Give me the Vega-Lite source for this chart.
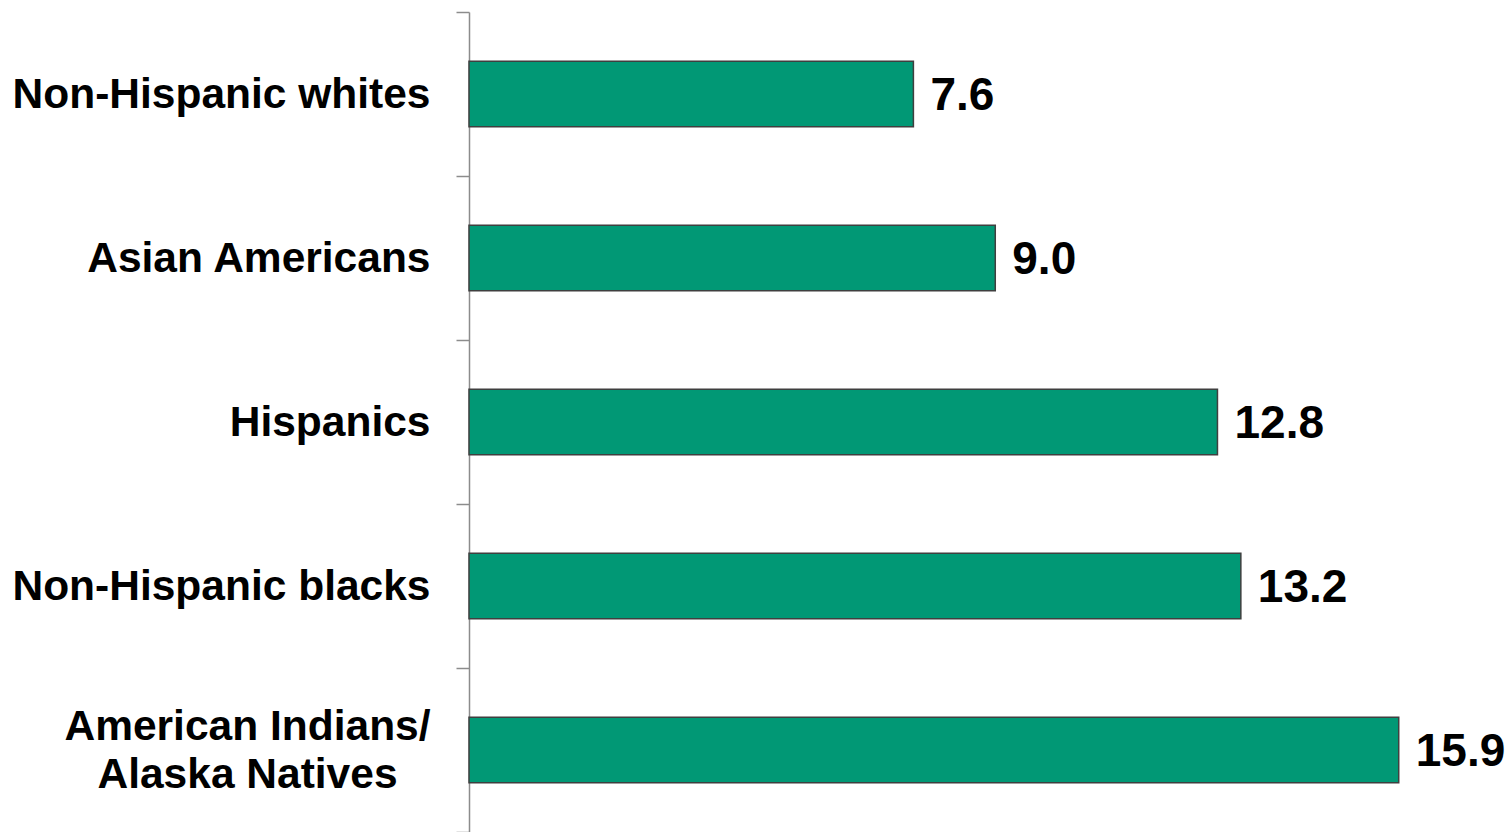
{
  "$schema": "https://vega.github.io/schema/vega-lite/v6.json",
  "autosize": "none",
  "padding": {"left": 469, "top": 12, "right": 0, "bottom": 0},
  "width": 1042,
  "height": 820,
  "background": "white",
  "config": {"view": {"stroke": null}, "font": "Liberation Sans"},
  "data": {"values": [
    {"group": "Non-Hispanic whites", "value": 7.6, "label": "7.6"},
    {"group": "Asian Americans", "value": 9.0, "label": "9.0"},
    {"group": "Hispanics", "value": 12.8, "label": "12.8"},
    {"group": "Non-Hispanic blacks", "value": 13.2, "label": "13.2"},
    {"group": "American Indians/ Alaska Natives", "value": 15.9, "label": "15.9"}
  ]},
  "encoding": {
    "y": {
      "field": "group", "type": "nominal", "sort": null,
      "scale": {"paddingInner": 0, "paddingOuter": 0},
      "axis": {
        "title": null,
        "tickBand": "extent",
        "tickSize": 13,
        "tickColor": "#8c8c8c",
        "tickWidth": 1.5,
        "domainColor": "#8c8c8c",
        "domainWidth": 1.5,
        "labelFont": "Liberation Sans",
        "labelFontWeight": "bold",
        "labelFontSize": 42.5,
        "labelColor": "black",
        "labelPadding": {"condition": {"test": "datum.value == 'American Indians/ Alaska Natives'", "value": 209}, "value": 26},
        "labelAlign": {"condition": {"test": "datum.value == 'American Indians/ Alaska Natives'", "value": "center"}, "value": "right"},
        "labelOffset": {"condition": {"test": "datum.value == 'American Indians/ Alaska Natives'", "value": -24}, "value": 0},
        "labelLineHeight": 48,
        "labelLimit": 0,
        "labelExpr": "datum.value == 'American Indians/ Alaska Natives' ? ['American Indians/', 'Alaska Natives'] : datum.value"
      }
    },
    "x": {
      "field": "value", "type": "quantitative",
      "scale": {"domain": [0, 17.82], "nice": false, "zero": true},
      "axis": null
    }
  },
  "layer": [
    {"mark": {"type": "bar", "height": {"band": 0.4}, "color": "#019875", "stroke": "#3f3f3f", "strokeWidth": 1.5}},
    {"mark": {"type": "text", "align": "left", "baseline": "middle", "dx": 17, "dy": 2, "font": "Liberation Sans", "fontWeight": "bold", "fontSize": 46, "color": "black"},
     "encoding": {"text": {"field": "label"}}}
  ]
}
